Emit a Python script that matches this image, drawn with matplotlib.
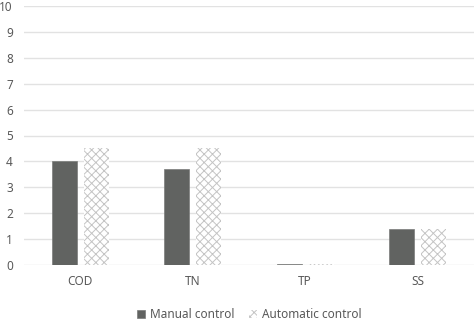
import matplotlib
matplotlib.use("Agg")
import matplotlib.pyplot as plt
import numpy as np

categories = ["COD", "TN", "TP", "SS"]
manual = [4.0, 3.7, 0.05, 1.4]
automatic = [4.5, 4.5, 0.03, 1.4]

plt.rcParams["font.family"] = ["Noto Sans", "DejaVu Sans"]
plt.rcParams["hatch.linewidth"] = 0.7

fig = plt.figure(figsize=(4.76, 3.23), dpi=100)
ax = fig.add_axes([24 / 476, 1 - 265 / 323, 450 / 476, 259 / 323])

x = np.arange(len(categories))
w = 0.225
gap = 0.06
ax.bar(x - (w + gap) / 2, manual, w, color="#616361", edgecolor="#7a7c7a",
       linewidth=0.5, label="Manual control", zorder=3)
ax.bar(x + (w + gap) / 2, automatic, w, facecolor="white", edgecolor="#c4c4c4",
       hatch="xxxx", linewidth=0, label="Automatic control", zorder=3)

ax.set_xlim(-0.5, len(categories) - 0.5)
ax.set_ylim(0, 10)
ax.set_yticks(range(0, 11))
ax.set_xticks(x)
ax.set_xticklabels(categories)
ax.grid(axis="y", color="#e2e2e2", linewidth=1, zorder=0)
for s in ax.spines.values():
    s.set_visible(False)
ax.tick_params(axis="both", length=0, colors="#595959", labelsize=8.5)
ax.tick_params(axis="y", pad=8)
ax.tick_params(axis="x", pad=7)

leg = ax.legend(loc="upper center", bbox_to_anchor=(0.5, -0.125), ncol=2,
                frameon=False, fontsize=8.5, handlelength=0.7, handleheight=0.7,
                handletextpad=0.4, columnspacing=1.2)
for t in leg.get_texts():
    t.set_color("#595959")

plt.savefig("out.png", dpi=100)
